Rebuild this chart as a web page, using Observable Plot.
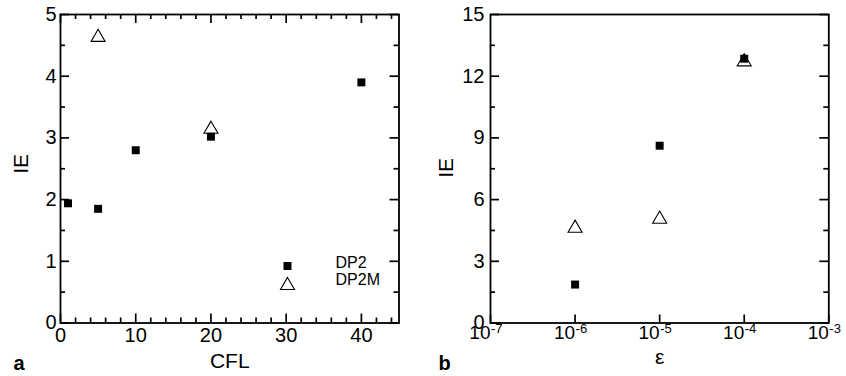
<!DOCTYPE html>
<html>
<head>
<meta charset="utf-8">
<script src="https://cdn.jsdelivr.net/npm/d3@7"></script>
<script src="https://cdn.jsdelivr.net/npm/@observablehq/plot@0.6"></script>
<style>
  body { margin: 0; background: #fff; }
  #fig { position: relative; width: 846px; height: 376px; background: #fff; }
  #fig svg { position: absolute; top: 0; }
</style>
</head>
<body>
<div id="fig"></div>
<script>
// Panel a: iteration efficiency IE against the CFL number
const cflDP2 = [1, 5, 10, 20, 40];
const ieDP2byCfl = [1.94, 1.85, 2.8, 3.02, 3.9];
const cflDP2M = [5, 20];
const ieDP2MbyCfl = [4.63, 3.14];

// Panel b: IE against the tolerance ε
const epsDP2 = [1e-6, 1e-5, 1e-4];
const ieDP2byEps = [1.87, 8.62, 12.85];
const epsDP2M = [1e-6, 1e-5, 1e-4];
const ieDP2MbyEps = [4.61, 5.05, 12.7];

const seriesNames = ["DP2", "DP2M"];

// Tick values and labels
const cflTicks = [0, 10, 20, 30, 40];
const ieTicksA = [0, 1, 2, 3, 4, 5];
const epsTicks = [1e-7, 1e-6, 1e-5, 1e-4, 1e-3];
const epsTickExponents = ["-7", "-6", "-5", "-4", "-3"];
const ieTicksB = [0, 3, 6, 9, 12, 15];
const panelLetters = ["a", "b"];

const FONT = '"Liberation Sans", Arial, Helvetica, sans-serif';
const H = 376, MT = 14, MB = 53.5;
const zip = (xs, ys) => xs.map((x, i) => ({x, y: ys[i]}));

function minorBetween(major, step, max) {
  const out = [];
  for (let v = major[0]; v <= max + step * 1e-6; v += step) {
    if (!major.some(m => Math.abs(m - v) < step * 1e-6)) out.push(+v.toFixed(6));
  }
  return out;
}

// Short inward ticks on one side of the frame: full-span rules inset from the opposite side
function inwardTicks(side, ticks, size, frameW, frameH) {
  const style = {stroke: "black", strokeWidth: 1.7};
  switch (side) {
    case "bottom": return Plot.ruleX(ticks, {x: d => d, insetTop: frameH - size, ...style});
    case "top":    return Plot.ruleX(ticks, {x: d => d, insetBottom: frameH - size, ...style});
    case "left":   return Plot.ruleY(ticks, {y: d => d, insetRight: frameW - size, ...style});
    case "right":  return Plot.ruleY(ticks, {y: d => d, insetLeft: frameW - size, ...style});
  }
}

const triStyle = {symbol: "triangle", r: 5.2, stroke: "black", fill: "none", strokeWidth: 1.1};
const sqStyle = {symbol: "square", r: 4.5, fill: "black", stroke: "none"};

// ---------- panel a ----------
const WA = 420, MLA = 60, MRA = 21.5;
const fwA = WA - MLA - MRA, fhA = H - MT - MB;
const cflMinor = minorBetween(cflTicks, 2, 44);
const ieMinorA = minorBetween(ieTicksA, 0.5, 5);

const plotA = Plot.plot({
  width: WA,
  height: H,
  marginLeft: MLA,
  marginRight: MRA,
  marginTop: MT,
  marginBottom: MB,
  style: {fontFamily: FONT, fontSize: "20px", color: "black", background: "white", overflow: "visible"},
  x: {domain: [0, 45], axis: null},
  y: {domain: [0, 5], axis: null},
  marks: [
    Plot.frame({stroke: "black", strokeWidth: 1.8}),
    inwardTicks("bottom", cflTicks, 9, fwA, fhA),
    inwardTicks("bottom", cflMinor, 5, fwA, fhA),
    inwardTicks("top", cflTicks, 9, fwA, fhA),
    inwardTicks("top", cflMinor, 5, fwA, fhA),
    inwardTicks("left", ieTicksA, 9, fwA, fhA),
    inwardTicks("left", ieMinorA, 5, fwA, fhA),
    inwardTicks("right", ieTicksA, 9, fwA, fhA),
    inwardTicks("right", ieMinorA, 5, fwA, fhA),
    Plot.axisX({anchor: "bottom", ticks: cflTicks, tickSize: 0, tickPadding: 5, tickFormat: d => String(d), fontSize: 20, label: null}),
    Plot.axisY({anchor: "left", ticks: ieTicksA, tickSize: 0, tickPadding: 4, tickFormat: d => String(d), fontSize: 20, label: null}),
    Plot.dot(zip(cflDP2M, ieDP2MbyCfl), {x: "x", y: "y", ...triStyle}),
    Plot.dot(zip(cflDP2, ieDP2byCfl), {x: "x", y: "y", ...sqStyle}),
    // legend
    Plot.dot([seriesNames[0]], {x: null, y: null, frameAnchor: "bottom-right", dx: -111.5, dy: -57, ...sqStyle}),
    Plot.dot([seriesNames[1]], {x: null, y: null, frameAnchor: "bottom-right", dx: -111.5, dy: -37.5, ...triStyle}),
    Plot.text([seriesNames[0]], {text: d => d, frameAnchor: "bottom-right", textAnchor: "start", dx: -63.5, dy: -55.5, fontSize: 16}),
    Plot.text([seriesNames[1]], {text: d => d, frameAnchor: "bottom-right", textAnchor: "start", dx: -63.5, dy: -38.5, fontSize: 16}),
    // axis titles and panel letter
    Plot.text(["CFL"], {text: d => d, frameAnchor: "bottom", dy: 45, fontSize: 21}),
    Plot.text(["IE"], {text: d => d, frameAnchor: "left", rotate: -90, dx: -39, dy: 5, fontSize: 21}),
    Plot.text([panelLetters[0]], {text: d => d, frameAnchor: "bottom-left", textAnchor: "start", dx: -47, dy: 47, fontSize: 20, fontWeight: "bold"})
  ]
});

// ---------- panel b ----------
const WB = 426, MLB = 70, MRB = 17.7;
const fwB = WB - MLB - MRB, fhB = H - MT - MB;
const ieMinorB = minorBetween(ieTicksB, 1.5, 15);

const plotB = Plot.plot({
  width: WB,
  height: H,
  marginLeft: MLB,
  marginRight: MRB,
  marginTop: MT,
  marginBottom: MB,
  style: {fontFamily: FONT, fontSize: "20px", color: "black", background: "white", overflow: "visible"},
  x: {type: "log", domain: [1e-7, 1e-3], axis: null},
  y: {domain: [0, 15], axis: null},
  marks: [
    Plot.frame({stroke: "black", strokeWidth: 1.8}),
    inwardTicks("bottom", epsTicks, 8, fwB, fhB),
    inwardTicks("left", ieTicksB, 9, fwB, fhB),
    inwardTicks("left", ieMinorB, 5, fwB, fhB),
    inwardTicks("right", ieTicksB, 9, fwB, fhB),
    inwardTicks("right", ieMinorB, 5, fwB, fhB),
    Plot.axisY({anchor: "left", ticks: ieTicksB, tickSize: 0, tickPadding: 6, tickFormat: d => String(d), fontSize: 20, label: null}),
    // power-of-ten tick labels: mantissa "10" and a raised exponent
    Plot.text(epsTicks, {x: d => d, text: () => "10", frameAnchor: "bottom", textAnchor: "end", dy: 16, fontSize: 19}),
    Plot.text(epsTicks, {x: d => d, text: (d, i) => epsTickExponents[i], frameAnchor: "bottom", textAnchor: "start", dx: 0.5, dy: 10, fontSize: 13}),
    Plot.dot(zip(epsDP2M, ieDP2MbyEps), {x: "x", y: "y", ...triStyle}),
    Plot.dot(zip(epsDP2, ieDP2byEps), {x: "x", y: "y", ...sqStyle}),
    Plot.text(["ε"], {text: d => d, frameAnchor: "bottom", dy: 41, fontSize: 21}),
    Plot.text(["IE"], {text: d => d, frameAnchor: "left", rotate: -90, dx: -44, dy: 9, fontSize: 21}),
    Plot.text([panelLetters[1]], {text: d => d, frameAnchor: "bottom-left", textAnchor: "start", dx: -52, dy: 47, fontSize: 20, fontWeight: "bold"})
  ]
});

const fig = document.getElementById("fig");
plotA.style.left = "0px";
plotB.style.left = "420px";
fig.append(plotA, plotB);
</script>
</body>
</html>
